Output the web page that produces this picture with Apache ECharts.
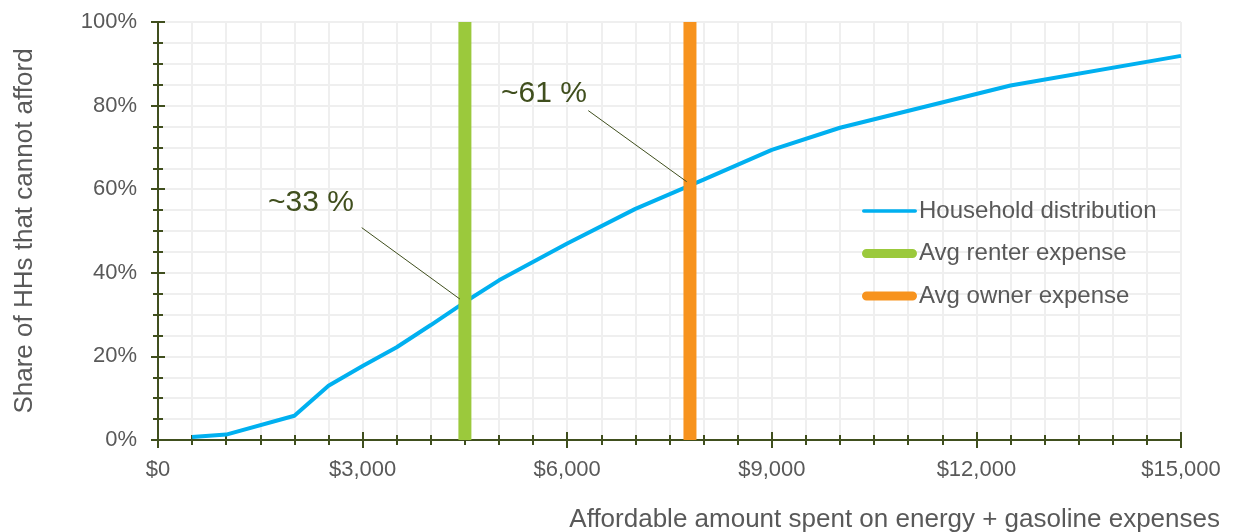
<!DOCTYPE html>
<html>
<head>
<meta charset="utf-8">
<script src="https://cdn.jsdelivr.net/npm/echarts@6/dist/echarts.min.js"></script>
<style>
  html, body { margin: 0; padding: 0; background: #ffffff; }
  #chart { width: 1233px; height: 532px; }
</style>
</head>
<body>
<div id="chart"></div>
<script>
// Affordable annual spend ($) and the share of households that cannot afford it (%)
const spend = [500, 1000, 2000, 2500, 3000, 3500, 4000, 4500, 5000, 6000, 7000, 8000, 9000, 10000, 12500, 15000];
const shareCannotAfford = [0.7, 1.3, 5.8, 13.0, 17.7, 22.2, 27.5, 33.0, 38.2, 47.0, 55.3, 62.3, 69.4, 74.7, 84.8, 91.9];

// Average annual energy + gasoline expense
const renterExpense = 4500;
const ownerExpense = 7800;

// Axis ticks
const xTicks = [0, 3000, 6000, 9000, 12000, 15000];
const yTicks = [0, 20, 40, 60, 80, 100];

// Callouts: text anchor and leader line (data coordinates)
const calloutText = ['~33 %', '~61 %'];
const calloutAnchor = [[2243, 56.8], [5660, 82.9]];
const leaderFrom = [[2987, 50.8], [6309, 78.8]];
const leaderTo = [[4428, 33.7], [7752, 61.8]];

const seriesNames = ['Household distribution', 'Avg renter expense', 'Avg owner expense'];
const colors = ['#00B0F0', '#9BC93C', '#F7931E'];

const FONT = '"Liberation Sans", Arial, sans-serif';
const AXIS_COLOR = '#404F1E';
const TEXT_COLOR = '#595959';
const GRID_COLOR = '#EFEFEF';

// Legend swatches: thin line for the distribution, thick rounded bars for the averages
const ICON_THIN = 'path://M1.75,5.25h51.5a1.75,1.75 0 0 1 0,3.5h-51.5a1.75,1.75 0 0 1 0,-3.5z M0,0h0.01v14h-0.01z M54.99,0h0.01v14h-0.01z';
const ICON_THICK = 'path://M4.5,2.5h46a4.5,4.5 0 0 1 0,9h-46a4.5,4.5 0 0 1 0,-9z M0,0h0.01v14h-0.01z';

const chart = echarts.init(document.getElementById('chart'), null, { renderer: 'canvas' });

const fmtMoney = v => '$' + v.toLocaleString('en-US');

const option = {
  animation: false,
  backgroundColor: '#ffffff',
  textStyle: { fontFamily: FONT },
  title: {
    text: 'Affordable amount spent on energy + gasoline expenses',
    right: 8,
    top: 502,
    textStyle: { fontFamily: FONT, fontSize: 26, fontWeight: 'normal', color: TEXT_COLOR }
  },
  grid: { left: 158, right: 52, top: 22, bottom: 92, containLabel: false, outerBoundsMode: 'none' },
  legend: {
    orient: 'vertical',
    left: 857,
    top: 194,
    itemWidth: 55,
    itemHeight: 14,
    itemGap: 18.5,
    textStyle: { fontFamily: FONT, fontSize: 24, color: TEXT_COLOR, padding: [0, 0, 0, -3] },
    data: [
      { name: seriesNames[0], icon: ICON_THIN, itemStyle: { color: colors[0] } },
      { name: seriesNames[1], icon: ICON_THICK, itemStyle: { color: colors[1] } },
      { name: seriesNames[2], icon: ICON_THICK, itemStyle: { color: colors[2] } }
    ]
  },
  xAxis: [{
    type: 'value',
    min: xTicks[0],
    max: xTicks[xTicks.length - 1],
    interval: xTicks[1] - xTicks[0],
    axisLine: { show: true, onZero: false, lineStyle: { color: AXIS_COLOR, width: 2 } },
    axisTick: { show: true, inside: false, length: 8, lineStyle: { color: AXIS_COLOR, width: 2 } },
    minorTick: { show: true, splitNumber: 6, length: 5, lineStyle: { color: AXIS_COLOR, width: 2 } },
    splitLine: { show: true, lineStyle: { color: GRID_COLOR, width: 2 } },
    minorSplitLine: { show: true, lineStyle: { color: GRID_COLOR, width: 2 } },
    axisLabel: { formatter: fmtMoney, fontFamily: FONT, fontSize: 22, color: TEXT_COLOR, margin: 19 }
  }, {
    // inner half of the crossing ticks
    type: 'value',
    position: 'bottom',
    min: xTicks[0],
    max: xTicks[xTicks.length - 1],
    interval: xTicks[1] - xTicks[0],
    axisLine: { show: false },
    axisTick: { show: true, inside: true, length: 8, lineStyle: { color: AXIS_COLOR, width: 2 } },
    minorTick: { show: true, splitNumber: 6, length: 5, lineStyle: { color: AXIS_COLOR, width: 2 } },
    splitLine: { show: false },
    axisLabel: { show: false }
  }],
  yAxis: [{
    type: 'value',
    min: yTicks[0],
    max: yTicks[yTicks.length - 1],
    interval: yTicks[1] - yTicks[0],
    name: 'Share of HHs that cannot afford',
    nameLocation: 'middle',
    nameGap: 120,
    nameTextStyle: { fontFamily: FONT, fontSize: 26, color: TEXT_COLOR },
    axisLine: { show: true, onZero: false, lineStyle: { color: AXIS_COLOR, width: 2 } },
    axisTick: { show: true, inside: false, length: 7, lineStyle: { color: AXIS_COLOR, width: 2 } },
    minorTick: { show: true, splitNumber: 4, length: 5, lineStyle: { color: AXIS_COLOR, width: 2 } },
    splitLine: { show: true, lineStyle: { color: GRID_COLOR, width: 2 } },
    minorSplitLine: { show: true, lineStyle: { color: GRID_COLOR, width: 2 } },
    axisLabel: { formatter: '{value}%', fontFamily: FONT, fontSize: 22, color: TEXT_COLOR, margin: 21 }
  }, {
    type: 'value',
    position: 'left',
    min: yTicks[0],
    max: yTicks[yTicks.length - 1],
    interval: yTicks[1] - yTicks[0],
    axisLine: { show: false },
    axisTick: { show: true, inside: true, length: 7, lineStyle: { color: AXIS_COLOR, width: 2 } },
    minorTick: { show: true, splitNumber: 4, length: 5, lineStyle: { color: AXIS_COLOR, width: 2 } },
    splitLine: { show: false },
    axisLabel: { show: false }
  }],
  series: [
    {
      name: seriesNames[0],
      type: 'line',
      data: spend.map((x, i) => [x, shareCannotAfford[i]]),
      symbol: 'none',
      lineStyle: { color: colors[0], width: 4 },
      itemStyle: { color: colors[0] },
      z: 2,
      markLine: {
        silent: true,
        symbol: 'none',
        label: { show: false },
        lineStyle: { color: AXIS_COLOR, width: 1, type: 'solid' },
        data: leaderFrom.map((p, i) => [{ coord: p }, { coord: leaderTo[i] }])
      },
      markPoint: {
        silent: true,
        symbol: 'circle',
        symbolSize: 0,
        label: {
          show: true,
          position: 'inside',
          fontFamily: FONT,
          fontSize: 30,
          color: AXIS_COLOR,
          formatter: p => p.name
        },
        data: calloutAnchor.map((p, i) => ({ name: calloutText[i], coord: p }))
      }
    },
    {
      name: seriesNames[1],
      type: 'line',
      data: [[renterExpense, yTicks[0]], [renterExpense, yTicks[yTicks.length - 1]]],
      symbol: 'none',
      lineStyle: { color: colors[1], width: 13, cap: 'butt' },
      itemStyle: { color: colors[1] },
      z: 3
    },
    {
      name: seriesNames[2],
      type: 'line',
      data: [[ownerExpense, yTicks[0]], [ownerExpense, yTicks[yTicks.length - 1]]],
      symbol: 'none',
      lineStyle: { color: colors[2], width: 13, cap: 'butt' },
      itemStyle: { color: colors[2] },
      z: 3
    }
  ]
};

chart.setOption(option);
</script>
</body>
</html>
